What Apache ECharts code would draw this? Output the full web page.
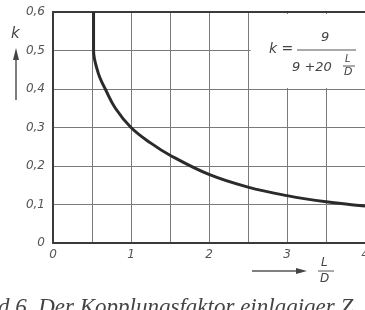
<!DOCTYPE html>
<html>
<head>
<meta charset="utf-8">
<script src="https://cdn.jsdelivr.net/npm/echarts@6/dist/echarts.min.js"></script>
<style>
  html, body { margin: 0; padding: 0; background: #fff; }
  #chart { width: 365px; height: 310px; }
</style>
</head>
<body>
<div id="chart"></div>
<script>
const ldValues = [0.52, 0.52, 0.53, 0.56, 0.6, 0.67, 0.8, 1.0, 1.25, 1.5, 2.0, 2.5, 3.0, 3.5, 4.0]
const kValues = [0.6, 0.5, 0.48, 0.455, 0.43, 0.4, 0.35, 0.3, 0.26, 0.228, 0.178, 0.145, 0.123, 0.107, 0.096]
const xTicks = ['0', '1', '2', '3', '4']
const yTicks = ['0', '0,1', '0,2', '0,3', '0,4', '0,5', '0,6']

const ink = '#3a3a3a'
const labelFont = { fontStyle: 'italic', fontFamily: 'DejaVu Sans', fontSize: 12, color: '#555' }

const curve = ldValues.map((x, i) => [x, kValues[i]])

const option = {
  animation: false,
  grid: { left: 53, top: 12, right: 0, bottom: 67, outerBoundsMode: 'none', containLabel: false },
  xAxis: [
    {
      type: 'value',
      min: 0,
      max: 4,
      interval: 0.5,
      axisLine: { lineStyle: { color: ink, width: 2 } },
      axisTick: { show: false },
      splitLine: { lineStyle: { color: '#7a7a7a', width: 1 } },
      axisLabel: Object.assign({}, labelFont, {
        margin: 6,
        showMaxLabel: true,
        formatter: v => (Number.isInteger(v) ? xTicks[v] : '')
      })
    },
    {
      // obere Rahmenlinie
      type: 'value',
      position: 'top',
      min: 0,
      max: 4,
      axisLine: { show: true, lineStyle: { color: ink, width: 2 } },
      axisTick: { show: false },
      axisLabel: { show: false },
      splitLine: { show: false }
    }
  ],
  yAxis: {
    type: 'value',
    min: 0,
    max: 0.6,
    interval: 0.1,
    axisLine: { show: true, lineStyle: { color: ink, width: 2 } },
    axisTick: { show: false },
    splitLine: { lineStyle: { color: '#7a7a7a', width: 1 } },
    axisLabel: Object.assign({}, labelFont, {
      margin: 8,
      formatter: v => yTicks[Math.round(v * 10)]
    })
  },
  series: [
    {
      type: 'line',
      xAxisIndex: 0,
      data: curve,
      smooth: 0.4,
      showSymbol: false,
      lineStyle: { color: '#2b2b2b', width: 3 },
      z: 10
    }
  ],
  graphic: [
    // Formelkasten
    { type: 'rect', shape: { x: 250.5, y: 14, width: 115, height: 74 }, style: { fill: '#fff' }, z: 5 },
    { type: 'text', x: 269, y: 42, style: { text: 'k =', font: 'italic 14px "DejaVu Sans"', fill: '#444' }, z: 6 },
    { type: 'text', x: 321, y: 31, style: { text: '9', font: 'italic 13px "DejaVu Sans"', fill: '#444' }, z: 6 },
    { type: 'line', shape: { x1: 297, y1: 50, x2: 356, y2: 50 }, style: { stroke: '#555', lineWidth: 1 }, z: 6 },
    { type: 'text', x: 292, y: 61, style: { text: '9 +20', font: 'italic 13px "DejaVu Sans"', fill: '#444' }, z: 6 },
    { type: 'text', x: 345, y: 54, style: { text: 'L', font: 'italic 10px "DejaVu Sans"', fill: '#444' }, z: 6 },
    { type: 'line', shape: { x1: 343, y1: 66, x2: 355, y2: 66 }, style: { stroke: '#555', lineWidth: 1 }, z: 6 },
    { type: 'text', x: 344, y: 67, style: { text: 'D', font: 'italic 11px "DejaVu Sans"', fill: '#444' }, z: 6 },
    // k Achsenbeschriftung
    { type: 'text', x: 11, y: 27, style: { text: 'k', font: 'italic 15px "DejaVu Sans"', fill: '#444' } },
    { type: 'line', shape: { x1: 16, y1: 100, x2: 16, y2: 58 }, style: { stroke: '#555', lineWidth: 1.5 } },
    { type: 'polygon', shape: { points: [[16, 48], [13, 60], [19, 60]] }, style: { fill: '#444' } },
    // L/D Achsenbeschriftung
    { type: 'line', shape: { x1: 252, y1: 271, x2: 298, y2: 271 }, style: { stroke: '#555', lineWidth: 1.5 } },
    { type: 'polygon', shape: { points: [[307, 271], [296, 268], [296, 274]] }, style: { fill: '#444' } },
    { type: 'text', x: 321, y: 257, style: { text: 'L', font: 'italic 12px "DejaVu Sans"', fill: '#444' } },
    { type: 'line', shape: { x1: 318, y1: 271, x2: 334, y2: 271 }, style: { stroke: '#555', lineWidth: 1 } },
    { type: 'text', x: 320, y: 273, style: { text: 'D', font: 'italic 12px "DejaVu Sans"', fill: '#444' } },
    // Bildunterschrift (abgeschnitten)
    { type: 'text', x: -2, y: 296, style: { text: 'd 6. Der Kopplungsfaktor einlagiger Z', font: 'italic 23px "Liberation Serif"', fill: '#444' } }
  ]
}

const myChart = echarts.init(document.getElementById('chart'))
myChart.setOption(option)
</script>
</body>
</html>
